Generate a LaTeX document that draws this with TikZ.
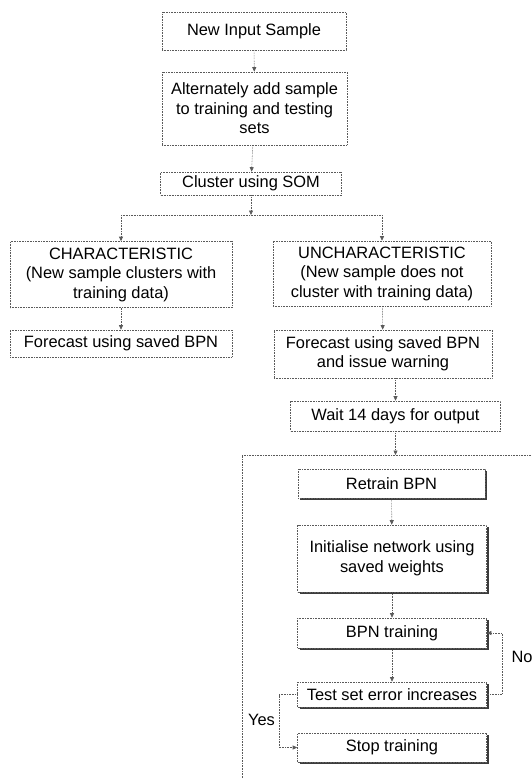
\documentclass[tikz,border=0pt]{standalone}
\usepackage{fontspec}
\setmainfont{Liberation Sans}
\usetikzlibrary{arrows.meta, calc, shadows}
\definecolor{gristrait}{RGB}{90,90,90}
\definecolor{grisombre}{RGB}{60,60,60}
\tikzset{
  trait/.style={densely dotted, draw=gristrait, line width=0.6pt},
  fleche/.style={trait, -{Triangle[length=4.5pt, width=4pt]}},
  boite/.style={trait, align=center, inner sep=0pt, fill=white},
  boiteombre/.style={boite, drop shadow={shadow xshift=2pt, shadow yshift=-2pt, fill=grisombre, opacity=1}},
}

\begin{document}
\begin{tikzpicture}[x=1pt, y=-1pt, font=\fontsize{16.4}{19.5}\selectfont]
  \useasboundingbox (0,0) rectangle (532,778);

  %boîtes du haut
  \node [boite, minimum width=184, minimum height=38] (entree) at (254,31) {New Input Sample};
  \node [boite, minimum width=185, minimum height=73] (alterne) at (254.5,108.5) {Alternately add sample\\to training and testing\\sets};
  \node [boite, minimum width=181, minimum height=23] (som) at (251,183.5) {Cluster using SOM};

  %les deux branches
  \node [boite, minimum width=222, minimum height=66] (carac) at (121,274.5) {CHARACTERISTIC\\(New sample clusters with\\training data)};
  \node [boite, minimum width=218, minimum height=65] (noncarac) at (382,273.5) {UNCHARACTERISTIC\\(New sample does not\\cluster with training data)};
  \node [boite, minimum width=222, minimum height=27] (prevg) at (121,343.5) {Forecast using saved BPN};
  \node [boite, minimum width=218, minimum height=48] (prevd) at (383,354) {Forecast using saved BPN\\and issue warning};
  \node [boite, minimum width=210, minimum height=30] (attente) at (395.5,416) {Wait 14 days for output};

  %boîtes du réentraînement
  \node [boiteombre, minimum width=187, minimum height=29] (retrain) at (391.5,483.5) {Retrain BPN};
  \node [boiteombre, minimum width=189, minimum height=67] (init) at (392,558.5) {Initialise network using\\saved weights};
  \node [boiteombre, minimum width=189, minimum height=30] (bpn) at (392,633) {BPN training};
  \node [boiteombre, minimum width=189, minimum height=25] (test) at (392,694.5) {Test set error increases};
  \node [boiteombre, minimum width=189, minimum height=29] (stop) at (392,747.5) {Stop training};

  %flèches du haut
  \draw [fleche] (entree) -- (alterne);
  \draw [fleche] (alterne) -- (som);
  \coordinate (fourche) at (som.south |- 0,215);
  \coordinate (gauche) at (carac.north |- fourche);
  \coordinate (droite) at (noncarac.north |- fourche);
  \draw [fleche] (som) -- (fourche);
  \draw [trait] (gauche) -- (droite);
  \draw [fleche] (gauche) -- (carac);
  \draw [fleche] (droite) -- (noncarac);
  \draw [fleche] (carac) -- (prevg);
  \draw [fleche] (noncarac) -- (prevd);
  \draw [fleche] (attente.north |- prevd.south) -- (attente);

  %le cadre pointillé
  \coordinate (cadre) at (attente.south |- 0,455);
  \draw [trait] (242,778) |- (532,455);
  \draw [fleche] (attente) -- (cadre);

  %flèches du bas
  \draw [fleche] (retrain) -- (init);
  \draw [fleche] (init) -- (bpn);
  \draw [fleche] (bpn) -- (test);
  \draw [fleche] (test.east) -- ++(15,0) |- (bpn.east);
  \draw [fleche] (test.west) -- ++(-18,0) |- (stop.west);

  %labels oui / non
  \node [inner sep=0pt] (non) at (522,657) {No};
  \node [inner sep=0pt] (oui) at (261.5,720) {Yes};
\end{tikzpicture}
\end{document}
